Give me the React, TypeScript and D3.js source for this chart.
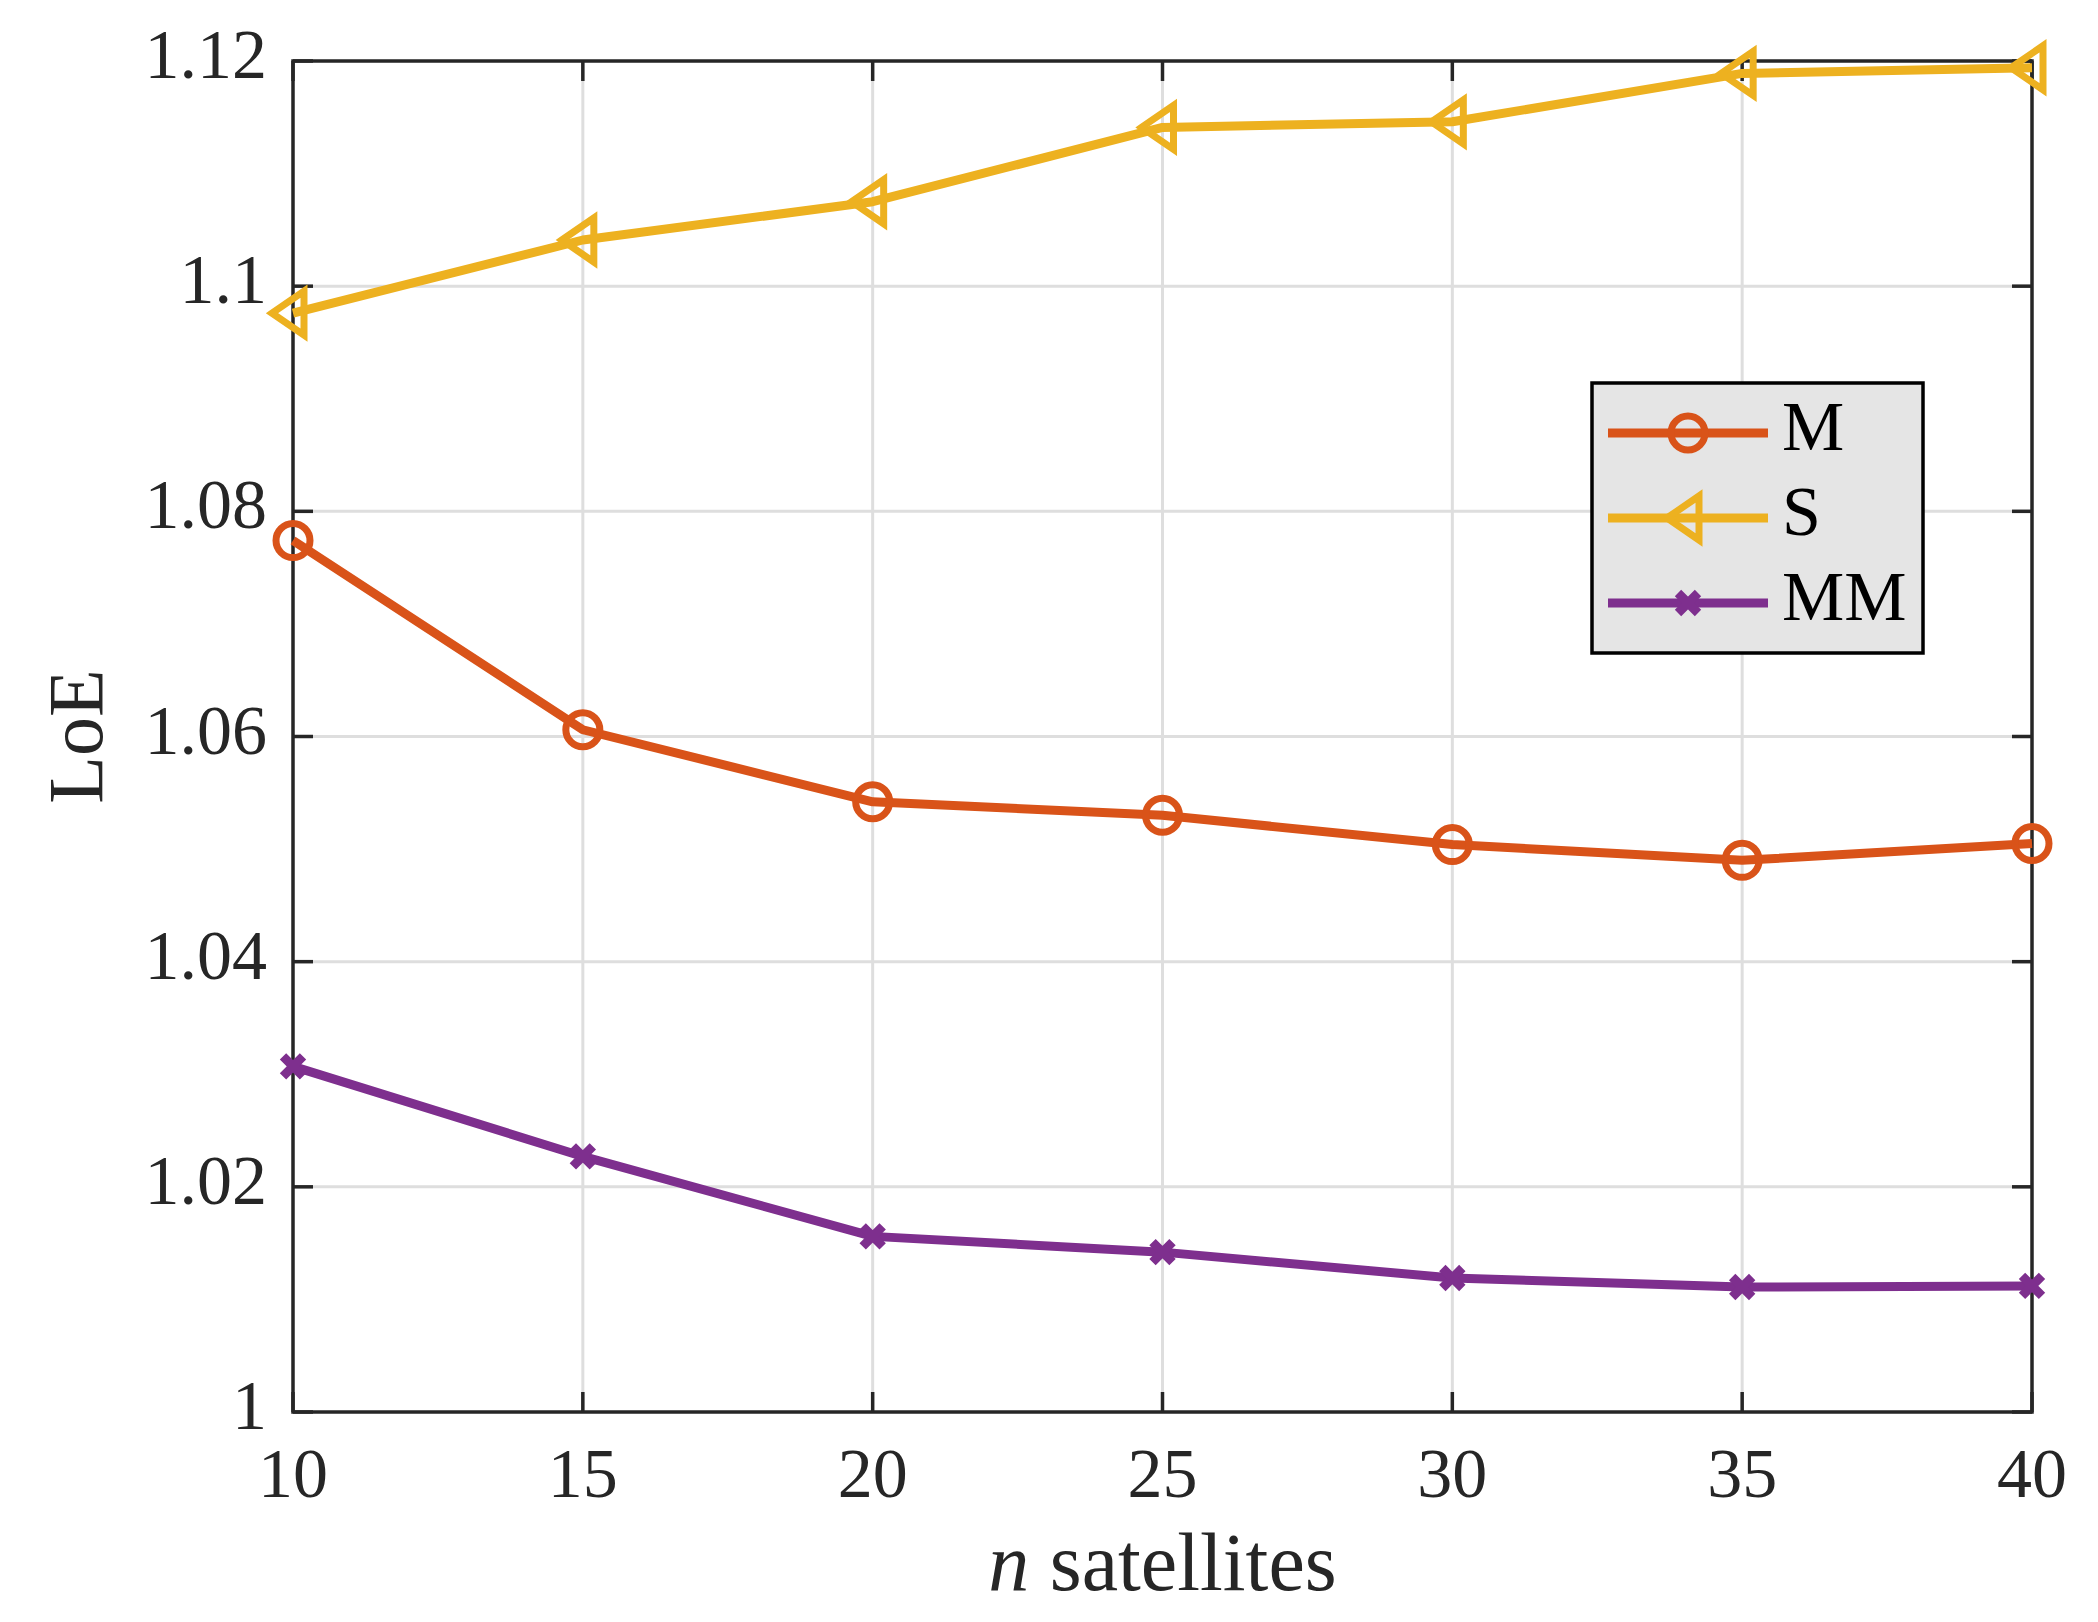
import React, { useRef, useEffect } from 'react';
import * as d3 from 'd3';

// satellites count on the x axis
const nSat = [10, 15, 20, 25, 30, 35, 40];

// LoE values
const loeM = [1.0774, 1.0606, 1.0542, 1.0530, 1.0504, 1.0490, 1.0505];
const loeS = [1.0976, 1.1041, 1.1075, 1.1141, 1.1146, 1.1189, 1.1194];
const loeMM = [1.0307, 1.0227, 1.0156, 1.0142, 1.0119, 1.0111, 1.0112];

const xTicks = [10, 15, 20, 25, 30, 35, 40];
const yTicks = [1, 1.02, 1.04, 1.06, 1.08, 1.1, 1.12];
const yTickLabels = ['1', '1.02', '1.04', '1.06', '1.08', '1.1', '1.12'];

const seriesNames = ['M', 'S', 'MM'];
const seriesColors = ['#D95319', '#EDB120', '#7E2F8E'];
const seriesMarkers = ['circle', 'triangle', 'cross'];

const W = 2098;
const H = 1622;

const App: React.FC = () => {
  const svgRef = useRef<SVGSVGElement | null>(null);

  useEffect(() => {
    const svg = d3.select(svgRef.current).attr('width', W).attr('height', H);
    svg.selectAll('*').remove();

    const left = 293, right = 2032, top = 61, bottom = 1412;
    const axisColor = '#262626';
    const font = '"Liberation Serif", "Times New Roman", serif';

    const x = d3.scaleLinear().domain([10, 40]).range([left, right]);
    const y = d3.scaleLinear().domain([1, 1.12]).range([bottom, top]);

    svg.append('rect').attr('width', W).attr('height', H).attr('fill', '#fff');

    // grid
    const grid = svg.append('g').attr('stroke', '#dedede').attr('stroke-width', 3);
    xTicks.slice(1, -1).forEach((t) => {
      grid.append('line').attr('x1', x(t)).attr('x2', x(t)).attr('y1', top).attr('y2', bottom);
    });
    yTicks.slice(1, -1).forEach((t) => {
      grid.append('line').attr('x1', left).attr('x2', right).attr('y1', y(t)).attr('y2', y(t));
    });

    // box + inward ticks
    const ax = svg.append('g').attr('stroke', axisColor).attr('stroke-width', 3.5);
    ax.append('rect')
      .attr('x', left).attr('y', top)
      .attr('width', right - left).attr('height', bottom - top)
      .attr('fill', 'none');
    const tl = 20;
    xTicks.forEach((t) => {
      ax.append('line').attr('x1', x(t)).attr('x2', x(t)).attr('y1', bottom).attr('y2', bottom - tl);
      ax.append('line').attr('x1', x(t)).attr('x2', x(t)).attr('y1', top).attr('y2', top + tl);
    });
    yTicks.forEach((t) => {
      ax.append('line').attr('x1', left).attr('x2', left + tl).attr('y1', y(t)).attr('y2', y(t));
      ax.append('line').attr('x1', right).attr('x2', right - tl).attr('y1', y(t)).attr('y2', y(t));
    });

    // tick labels
    svg.append('g')
      .selectAll('text')
      .data(xTicks)
      .join('text')
      .attr('x', (d) => x(d))
      .attr('y', bottom + 85)
      .attr('text-anchor', 'middle')
      .attr('font-family', font)
      .attr('font-size', 70)
      .attr('fill', axisColor)
      .text((d) => String(d));

    svg.append('g')
      .selectAll('text')
      .data(yTicks)
      .join('text')
      .attr('x', left - 26)
      .attr('y', (d) => y(d) + 17)
      .attr('text-anchor', 'end')
      .attr('font-family', font)
      .attr('font-size', 70)
      .attr('fill', axisColor)
      .text((d, i) => yTickLabels[i]);

    // axis labels
    const xl = svg.append('text')
      .attr('x', (left + right) / 2)
      .attr('y', 1590)
      .attr('text-anchor', 'middle')
      .attr('font-family', font)
      .attr('font-size', 82)
      .attr('fill', axisColor);
    xl.append('tspan').attr('font-style', 'italic').text('n');
    xl.append('tspan').text(' satellites');

    svg.append('text')
      .attr('transform', `translate(102,${(top + bottom) / 2}) rotate(-90)`)
      .attr('text-anchor', 'middle')
      .attr('font-family', font)
      .attr('font-size', 78)
      .attr('fill', axisColor)
      .text('LoE');

    const drawMarker = (g: any, kind: string, cx: number, cy: number, color: string) => {
      if (kind === 'circle') {
        g.append('circle').attr('cx', cx).attr('cy', cy).attr('r', 17)
          .attr('fill', 'none').attr('stroke', color).attr('stroke-width', 7);
      } else if (kind === 'triangle') {
        g.append('path')
          .attr('d', `M${cx - 21},${cy} L${cx + 11},${cy - 22} L${cx + 11},${cy + 22} Z`)
          .attr('fill', 'none').attr('stroke', color).attr('stroke-width', 7);
      } else {
        const s = 10;
        g.append('path')
          .attr('d', `M${cx - s},${cy - s} L${cx + s},${cy + s} M${cx - s},${cy + s} L${cx + s},${cy - s}`)
          .attr('stroke', color).attr('stroke-width', 9);
      }
    };

    const allSeries = [loeM, loeS, loeMM];
    const line = d3.line<number>().x((d, i) => x(nSat[i])).y((d) => y(d));

    allSeries.forEach((vals, si) => {
      const g = svg.append('g');
      g.append('path')
        .attr('d', line(vals) as string)
        .attr('fill', 'none')
        .attr('stroke', seriesColors[si])
        .attr('stroke-width', 9)
        .attr('stroke-linejoin', 'round');
      vals.forEach((v, i) => drawMarker(g, seriesMarkers[si], x(nSat[i]), y(v), seriesColors[si]));
    });

    // legend
    const lg = svg.append('g');
    lg.append('rect')
      .attr('x', 1592).attr('y', 383).attr('width', 331).attr('height', 270)
      .attr('fill', '#e5e5e5').attr('stroke', '#000').attr('stroke-width', 3.5);
    const rowY = [433, 518, 603];
    seriesNames.forEach((name, si) => {
      lg.append('line')
        .attr('x1', 1608).attr('x2', 1768).attr('y1', rowY[si]).attr('y2', rowY[si])
        .attr('stroke', seriesColors[si]).attr('stroke-width', 9);
      drawMarker(lg, seriesMarkers[si], 1688, rowY[si], seriesColors[si]);
      lg.append('text')
        .attr('x', 1782).attr('y', rowY[si] + 17)
        .attr('font-family', font).attr('font-size', 70).attr('fill', '#000')
        .text(name);
    });
  }, []);

  return <svg ref={svgRef} style={{ position: 'absolute', left: 0, top: 0, display: 'block' }}></svg>;
};

export default App;
